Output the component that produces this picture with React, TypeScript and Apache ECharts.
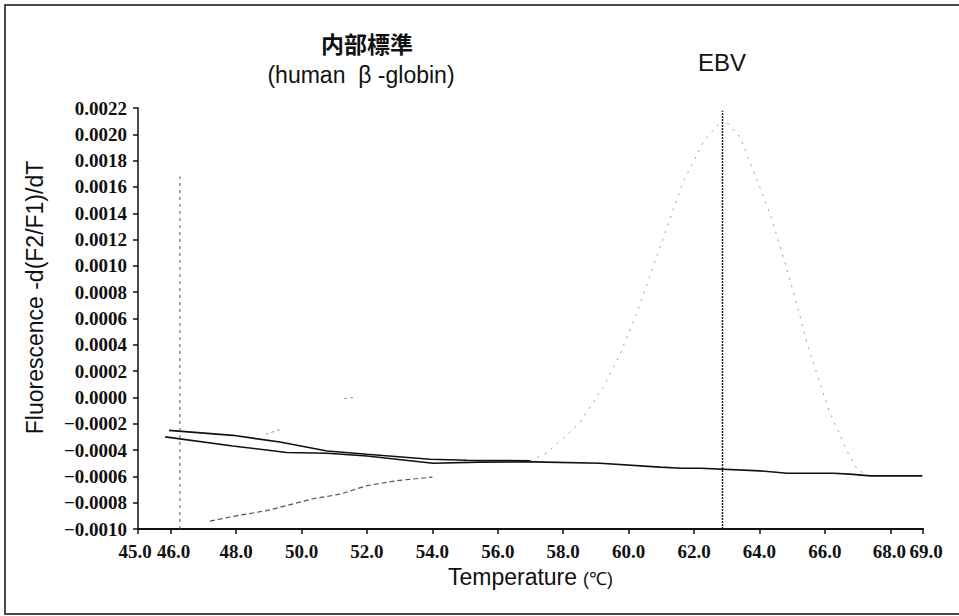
import React, { useEffect, useRef } from "react";
import * as echarts from "echarts";

// ---- axes ----
const xMin = 45;
const xMax = 69;
const xTickValues = [45, 46, 48, 50, 52, 54, 56, 58, 60, 62, 64, 66, 68, 69];
const yMin = -0.001;
const yMax = 0.0022;
const yStep = 0.0002;

// ---- texts ----
const titleInternal = "内部標準";
const titleInternalSub = "(human  β -globin)";
const titleEbv = "EBV";
const yAxisName = "Fluorescence -d(F2/F1)/dT";
const xAxisNameMain = "Temperature";
const xAxisNameUnit = "(℃)";

// ---- traces ----
const upperTraceX = [45.95, 47.9, 49.34, 50.78, 52.0, 53.93, 55.06, 56.99];
const upperTraceY = [-0.00025, -0.000288, -0.000339, -0.000407, -0.000432, -0.00047, -0.000477, -0.000482];

const lowerTraceX = [45.83, 47.9, 49.55, 50.78, 52.0, 54.02, 55.46, 57.08, 59.13, 60.96, 61.64, 62.19, 64.02, 64.85, 66.25, 66.77, 67.39, 68.98];
const lowerTraceY = [-0.0003, -0.000369, -0.000419, -0.000424, -0.000445, -0.0005, -0.000492, -0.00049, -0.0005, -0.00053, -0.000538, -0.000538, -0.000558, -0.000576, -0.000576, -0.000583, -0.000596, -0.000596];

const ebvPeakX = [56.99, 57.5, 58.0, 58.49, 59.22, 59.74, 60.26, 60.69, 61.18, 61.67, 62.3, 62.9, 63.4, 63.69, 63.96, 64.36, 64.82, 65.15, 65.49, 66.13, 66.68, 67.0, 67.4];
const ebvPeakY = [-0.000482, -0.00042, -0.00031, -0.0002, 0.00008, 0.00033, 0.00065, 0.00095, 0.0013, 0.00164, 0.00195, 0.00212, 0.00198, 0.0018, 0.00163, 0.00137, 0.00099, 0.0007, 0.00038, -0.0001, -0.00041, -0.00055, -0.0006];

const istdRiseX = [47.2, 48.0, 48.94, 50.35, 51.18, 52.0, 53.0, 54.0];
const istdRiseY = [-0.00094, -0.0009, -0.00086, -0.00077, -0.000735, -0.00067, -0.00063, -0.000606];

const faintX = [48.9, 49.4, 50.3, 51.3, 51.6];
const faintY: (number | string)[] = [-0.00028, -0.00024, "-", -0.00001, 0.0];

const istdMarkerX = [46.28, 46.28];
const istdMarkerY = [-0.001, 0.00168];
const ebvMarkerX = [62.87, 62.87];
const ebvMarkerY = [-0.001, 0.00218];

const zip = (xs: number[], ys: (number | string)[]) => xs.map((x, i) => [x, ys[i]]);

const SERIF = "Liberation Serif";
const SANS = "Liberation Sans";
const CJK = "Noto Sans CJK JP";

function fmtY(v: number) {
  const r = Math.round(v * 10000) / 10000;
  const s = Math.abs(r).toFixed(4);
  return r < 0 ? "\u2212" + s : s;
}

const X_LABEL_SIZE = 19;
const xLabelBase = { fontFamily: SERIF, fontWeight: "bold", fontSize: X_LABEL_SIZE, color: "#111" };
const xLabelRich = {
  l: { ...xLabelBase, padding: [0, 6, 0, 0] },
  r: { ...xLabelBase, padding: [0, 0, 0, 6] },
  l2: { ...xLabelBase, padding: [0, 2, 0, 0] },
  r2: { ...xLabelBase, padding: [0, 0, 0, 6] },
};

export default function App() {
  const ref = useRef<HTMLDivElement>(null);
  useEffect(() => {
    if (!ref.current) return;
    const chart = echarts.init(ref.current, undefined, { renderer: "svg" });
    const lineBase = { type: "line", symbol: "none", showSymbol: false, silent: true, z: 3 };
    chart.setOption({
      animation: false,
      backgroundColor: "#ffffff",
      grid: { left: 138, right: 36, top: 108, bottom: 87 },
      xAxis: {
        type: "value",
        min: xMin,
        max: xMax,
        name: "{a|" + xAxisNameMain + "}{b|" + xAxisNameUnit + "}",
        nameLocation: "middle",
        nameGap: 36,
        nameTextStyle: {
          rich: {
            a: { fontFamily: SANS, fontSize: 23, color: "#111" },
            b: { fontFamily: SANS, fontSize: 18, color: "#111", padding: [3, 0, 0, 6] },
          },
        },
        axisLine: { show: true, onZero: false, lineStyle: { color: "#111", width: 2 } },
        axisTick: { show: true, inside: false, length: 5, customValues: xTickValues, lineStyle: { color: "#111", width: 1.5 } },
        axisLabel: {
          customValues: xTickValues,
          margin: 13,
          ...xLabelBase,
          formatter: (v: number) => {
            const t = v.toFixed(1);
            if (v === 45) return "{l|" + t + "}";
            if (v === 46) return "{r|" + t + "}";
            if (v === 68) return "{l2|" + t + "}";
            if (v === 69) return "{r2|" + t + "}";
            return t;
          },
          rich: xLabelRich,
        },
        splitLine: { show: false },
      },
      yAxis: {
        type: "value",
        min: yMin,
        max: yMax,
        interval: yStep,
        name: yAxisName,
        nameLocation: "middle",
        nameGap: 92,
        nameRotate: 90,
        nameTextStyle: { fontFamily: SANS, fontSize: 23, color: "#111", padding: [0, 0, 0, 42] },
        axisLine: { show: true, onZero: false, lineStyle: { color: "#111", width: 1.5 } },
        axisTick: { show: true, inside: false, length: 5, lineStyle: { color: "#111", width: 1.5 } },
        axisLabel: {
          margin: 11,
          fontFamily: SERIF,
          fontWeight: "bold",
          fontSize: 19,
          color: "#111",
          formatter: (v: number) => fmtY(v),
        },
        splitLine: { show: false },
      },
      graphic: [
        {
          type: "rect",
          shape: { x: 5, y: 5, width: 962, height: 609 },
          style: { fill: "none", stroke: "#111", lineWidth: 1.5 },
          silent: true,
          z: 0,
        },
        {
          type: "text",
          x: 367,
          y: 43,
          style: { text: titleInternal, fontFamily: CJK, fontSize: 23, fontWeight: "bold", fill: "#111", align: "center", verticalAlign: "middle" },
        },
        {
          type: "text",
          x: 361,
          y: 75,
          style: { text: titleInternalSub, fontFamily: SANS, fontSize: 23, fill: "#111", align: "center", verticalAlign: "middle" },
        },
        {
          type: "text",
          x: 722,
          y: 62,
          style: { text: titleEbv, fontFamily: SANS, fontSize: 24, fill: "#111", align: "center", verticalAlign: "middle" },
        },
      ],
      series: [
        { ...lineBase, name: "istd-rise", data: zip(istdRiseX, istdRiseY), lineStyle: { color: "#555", width: 1.2, type: [5, 3] } },
        { ...lineBase, name: "faint", data: zip(faintX, faintY), connectNulls: false, lineStyle: { color: "#999", width: 1, type: [3, 3] } },
        { ...lineBase, name: "ebv-peak", data: zip(ebvPeakX, ebvPeakY), lineStyle: { color: "#9a9a9a", width: 1, type: [2, 6] } },
        { ...lineBase, name: "upper", data: zip(upperTraceX, upperTraceY), lineStyle: { color: "#111", width: 1.6 } },
        { ...lineBase, name: "lower", data: zip(lowerTraceX, lowerTraceY), lineStyle: { color: "#111", width: 1.6 } },
        { ...lineBase, name: "istd-marker", data: zip(istdMarkerX, istdMarkerY), lineStyle: { color: "#555", width: 1, type: [3, 4] } },
        { ...lineBase, name: "ebv-marker", data: zip(ebvMarkerX, ebvMarkerY), lineStyle: { color: "#222", width: 1.5, type: [2, 1] } },
      ],
    });
    return () => chart.dispose();
  }, []);
  return <div ref={ref} style={{ position: "fixed", left: 0, top: 0, width: 959, height: 616 }} />;
}
